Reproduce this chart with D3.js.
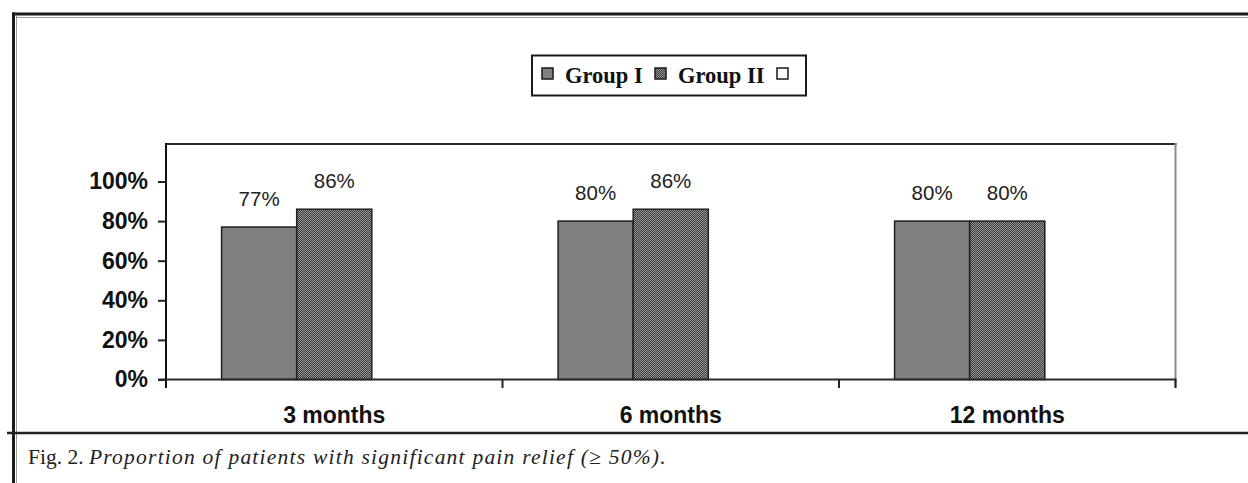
<!DOCTYPE html>
<html>
<head>
<meta charset="utf-8">
<script src="https://cdn.jsdelivr.net/npm/d3@7"></script>
<style>
  html, body { margin: 0; padding: 0; background: #fff; }
  svg { display: block; }
</style>
</head>
<body>
<svg id="chart" width="1248" height="483"></svg>
<script>
// Follow-up points along the x axis
const categories = ["3 months", "6 months", "12 months"];
// Legend entries (the third entry has no label and no data)
const seriesNames = ["Group I", "Group II", ""];
// Percentage of patients with ≥50% pain relief
const groupI = [77, 80, 80];
const groupII = [86, 86, 80];
const groupIII = [null, null, null];
// Y axis ticks
const yTicks = [0, 20, 40, 60, 80, 100];
const caption = { lead: "Fig. 2. ", body: "Proportion of patients with significant pain relief (≥ 50%)." };

const seriesValues = [groupI, groupII, groupIII];

const svg = d3.select("#chart");
svg.append("rect").attr("width", 1248).attr("height", 483).attr("fill", "#fff");

// Fine checker fill for Group II
const defs = svg.append("defs");
const pat = defs.append("pattern").attr("id", "checker")
  .attr("width", 2).attr("height", 2).attr("patternUnits", "userSpaceOnUse");
pat.append("rect").attr("width", 2).attr("height", 2).attr("fill", "#3a3a3a");
pat.append("rect").attr("x", 0).attr("y", 0).attr("width", 1).attr("height", 1).attr("fill", "#989898");
pat.append("rect").attr("x", 1).attr("y", 1).attr("width", 1).attr("height", 1).attr("fill", "#989898");

const fills = ["#808080", "url(#checker)", "#ffffff"];

// Page frame: double rule on top and left, single rule above the caption
const frame = svg.append("g");
frame.append("line").attr("x1", 12).attr("x2", 1248).attr("y1", 14).attr("y2", 14)
  .attr("stroke", "#1a1a1a").attr("stroke-width", 3);
frame.append("line").attr("x1", 16).attr("x2", 1248).attr("y1", 17.5).attr("y2", 17.5)
  .attr("stroke", "#9a9a9a").attr("stroke-width", 1);
frame.append("line").attr("x1", 13.5).attr("x2", 13.5).attr("y1", 12.5).attr("y2", 483)
  .attr("stroke", "#1a1a1a").attr("stroke-width", 3);
frame.append("line").attr("x1", 16.5).attr("x2", 16.5).attr("y1", 16).attr("y2", 483)
  .attr("stroke", "#9a9a9a").attr("stroke-width", 1);
frame.append("line").attr("x1", 7).attr("x2", 1248).attr("y1", 433).attr("y2", 433)
  .attr("stroke", "#222").attr("stroke-width", 2.5);

// Scales
const plot = { left: 166, right: 1175.5, top: 144, bottom: 380 };
const x = d3.scaleBand().domain(categories).range([plot.left, plot.right]).paddingInner(0).paddingOuter(0);
const xs = d3.scaleBand().domain(d3.range(seriesNames.length)).range([0, x.bandwidth()])
  .paddingInner(0).paddingOuter(0.74);
const y = d3.scaleLinear().domain([0, 100]).range([379.5, 181.5]);

// Plot area border (top and right)
svg.append("line").attr("x1", plot.left).attr("x2", plot.right + 1).attr("y1", plot.top).attr("y2", plot.top)
  .attr("stroke", "#2a2a2a").attr("stroke-width", 2);
svg.append("line").attr("x1", plot.right).attr("x2", plot.right).attr("y1", plot.top - 1).attr("y2", 388)
  .attr("stroke", "#8a8a8a").attr("stroke-width", 2);

// Bars
const bars = svg.append("g");
seriesValues.forEach((vals, si) => {
  categories.forEach((c, ci) => {
    const v = vals[ci];
    if (v == null) return;
    bars.append("rect")
      .attr("x", x(c) + xs(si))
      .attr("y", y(v))
      .attr("width", xs.bandwidth())
      .attr("height", y(0) - y(v))
      .attr("fill", fills[si])
      .attr("stroke", "#1e1e1e")
      .attr("stroke-width", 1.5);
    svg.append("text")
      .attr("x", x(c) + xs(si) + xs.bandwidth() / 2)
      .attr("y", y(v) - 21)
      .attr("text-anchor", "middle")
      .attr("font-family", "'Liberation Sans', Arial, sans-serif")
      .attr("font-size", 20.5)
      .attr("fill", "#222")
      .text(v + "%");
  });
});

// Y axis
const yAxis = svg.append("g").attr("transform", `translate(${plot.left},0)`)
  .call(d3.axisLeft(y).tickValues(yTicks).tickSize(8).tickPadding(10).tickFormat(d => d + "%"));
yAxis.select(".domain").remove();
yAxis.selectAll(".tick line").attr("stroke", "#222").attr("stroke-width", 2);
yAxis.selectAll(".tick text")
  .attr("font-family", "'Liberation Sans', Arial, sans-serif")
  .attr("font-weight", "bold").attr("font-size", 23).attr("fill", "#111");
svg.append("line").attr("x1", plot.left).attr("x2", plot.left).attr("y1", plot.top - 1).attr("y2", 388)
  .attr("stroke", "#111").attr("stroke-width", 2);

// X axis: ticks at category boundaries, labels centred in each band
svg.append("line").attr("x1", 158).attr("x2", plot.right + 1).attr("y1", y(0)).attr("y2", y(0))
  .attr("stroke", "#2a2a2a").attr("stroke-width", 2);
const boundaries = categories.map(c => x(c)).concat([plot.right]);
svg.append("g").selectAll("line").data(boundaries.slice(1)).join("line")
  .attr("x1", d => d).attr("x2", d => d).attr("y1", y(0)).attr("y2", 388)
  .attr("stroke", "#222").attr("stroke-width", 2);
svg.append("g").selectAll("text").data(categories).join("text")
  .attr("x", d => x(d) + x.bandwidth() / 2)
  .attr("y", 423)
  .attr("text-anchor", "middle")
  .attr("font-family", "'Liberation Sans', Arial, sans-serif")
  .attr("font-weight", "bold").attr("font-size", 23).attr("fill", "#111")
  .text(d => d);

// Legend
const legend = svg.append("g");
legend.append("rect").attr("x", 532).attr("y", 55.5).attr("width", 274).attr("height", 40)
  .attr("fill", "#fff").attr("stroke", "#1a1a1a").attr("stroke-width", 2);
const legendX = [542, 655, 777];
seriesNames.forEach((name, i) => {
  legend.append("rect").attr("x", legendX[i]).attr("y", 68).attr("width", 11).attr("height", 11)
    .attr("fill", fills[i]).attr("stroke", "#1a1a1a").attr("stroke-width", 1.5);
  if (name) {
    legend.append("text").attr("x", legendX[i] + 23).attr("y", 83)
      .attr("font-family", "'Liberation Serif', 'Times New Roman', serif")
      .attr("font-weight", "bold").attr("font-size", 22.5).attr("fill", "#111")
      .text(name);
  }
});

// Caption: roman figure number followed by a letter-spaced italic sentence
const cap = svg.append("text").attr("x", 28).attr("y", 464)
  .attr("font-family", "'Liberation Serif', 'Times New Roman', serif")
  .attr("font-size", 21.5).attr("fill", "#222");
const lead = cap.append("tspan").text(caption.lead);
const body = cap.append("tspan").attr("font-style", "italic").text(caption.body);
const captionEnd = 667;
const natural = cap.node().getComputedTextLength();
const spacing = Math.max(0, (captionEnd - 28 - natural) / caption.body.length);
body.attr("letter-spacing", spacing.toFixed(2));
</script>
</body>
</html>
